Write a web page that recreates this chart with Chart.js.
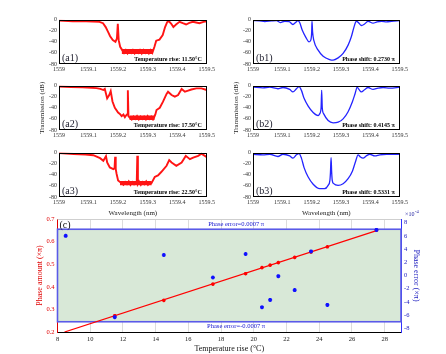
<!DOCTYPE html>
<html>
<head>
<meta charset="utf-8">
<script src="https://cdn.jsdelivr.net/npm/chart.js@4.4.1/dist/chart.umd.min.js"></script>
<style>
  html, body { margin: 0; padding: 0; background: #fff; }
  #fig { position: relative; width: 446px; height: 354px; overflow: hidden; }
  #fig canvas { position: absolute; }
</style>
</head>
<body>
<div id="fig">
  <canvas id="a1" width="179" height="62" style="left:38px;top:14px"></canvas>
  <canvas id="a2" width="179" height="62" style="left:38px;top:80px"></canvas>
  <canvas id="a3" width="179" height="70" style="left:38px;top:147px"></canvas>
  <canvas id="b1" width="178" height="62" style="left:232px;top:14px"></canvas>
  <canvas id="b2" width="178" height="62" style="left:232px;top:80px"></canvas>
  <canvas id="b3" width="178" height="70" style="left:232px;top:147px"></canvas>
  <canvas id="c" width="386" height="146" style="left:35px;top:208px"></canvas>
</div>
<script>
/* spectra panels: wavelength (nm) / transmission (dB) */
var WL_TICK_VALUES = [1559, 1559.1, 1559.2, 1559.3, 1559.4, 1559.5];
var WL_TICK_LABELS = ['1559', '1559.1', '1559.2', '1559.3', '1559.4', '1559.5'];
var DB_TICK_VALUES = [0, -20, -40, -60, -80];

var a1Wl = [1559.000, 1559.047, 1559.092, 1559.137, 1559.149, 1559.158, 1559.166, 1559.173, 1559.182, 1559.191, 1559.196, 1559.199, 1559.202, 1559.207, 1559.214,
  1559.220, 1559.226, 1559.232, 1559.238, 1559.244, 1559.250, 1559.256, 1559.262, 1559.268, 1559.274, 1559.280, 1559.286, 1559.292, 1559.298, 1559.304, 1559.310, 1559.316,
  1559.323, 1559.329, 1559.340, 1559.351, 1559.359, 1559.366, 1559.372, 1559.380, 1559.387, 1559.396, 1559.408, 1559.419, 1559.430, 1559.441, 1559.453, 1559.464, 1559.475, 1559.489, 1559.500];
var a1Db = [-1.8, -3, -3, -4, -6.5, -13.5, -22, -30, -37, -40, -34, -7.6, -37, -49, -55,
  -60, -55, -61, -56, -60, -55, -61, -56, -60, -55, -61, -55, -60, -56, -61, -55, -60,
  -49, -38, -36, -28, -13.5, -4.7, -3, -7.6, -13.5, -8.8, -4, -6.5, -8.8, -5.9, -4, -5.3, -6.5, -4, -3];
// noise band on the flat stop-band floor
var a1BandWl = [1559.212, 1559.318];
var a1BandHi = [-53, -53];
var a1BandLo = [-62, -62];

var a2Wl = [1559.000, 1559.040, 1559.080, 1559.127, 1559.140, 1559.150, 1559.155, 1559.163, 1559.170, 1559.175, 1559.181, 1559.189, 1559.200, 1559.206, 1559.212, 1559.218, 1559.223, 1559.228, 1559.231, 1559.233, 1559.235, 1559.240,
  1559.246, 1559.252, 1559.258, 1559.264, 1559.270, 1559.276, 1559.282, 1559.288, 1559.294, 1559.300, 1559.306, 1559.312, 1559.318, 1559.322,
  1559.326, 1559.330, 1559.341, 1559.352, 1559.364, 1559.369, 1559.381, 1559.392, 1559.403, 1559.415, 1559.426, 1559.437, 1559.448, 1559.465, 1559.482, 1559.500];
var a2Db = [-1.7, -2.5, -3, -4.6, -6, -8, -6, -23, -17, -10, -28.6, -40, -48.6, -51, -55, -52, -57, -53, -51.5, -8.6, -55, -58,
  -61, -56, -60, -55, -61, -56, -60, -56, -61, -55, -60, -56, -61, -57,
  -52, -44, -40, -29, -15, -11, -17, -20, -17, -6, -11, -9, -7, -5, -5, -8];
var a2BandWl = [1559.238, 1559.324];
var a2BandHi = [-54, -54];
var a2BandLo = [-62, -62];

var a3Wl = [1559.000, 1559.050, 1559.090, 1559.116, 1559.139, 1559.150, 1559.159, 1559.163, 1559.172, 1559.184, 1559.188, 1559.190, 1559.192, 1559.195, 1559.200, 1559.212,
  1559.218, 1559.224, 1559.230, 1559.236, 1559.242, 1559.248, 1559.254, 1559.259, 1559.263, 1559.265, 1559.267, 1559.271, 1559.277, 1559.283, 1559.289, 1559.295, 1559.301, 1559.307, 1559.313,
  1559.324, 1559.335, 1559.346, 1559.364, 1559.373, 1559.381, 1559.397, 1559.415, 1559.429, 1559.443, 1559.454, 1559.471, 1559.482, 1559.499];
var a3Db = [-1, -2.5, -3.5, -4.7, -10, -14.8, -6.5, -17.8, -26.7, -29.6, -28, -7.7, -30, -38.5, -50.3, -55,
  -58, -53, -57, -52, -58, -53, -57, -54, -56, -5.9, -56, -52, -58, -53, -57, -52, -58, -54, -55,
  -44, -41, -35, -23.7, -13.6, -17.8, -23.7, -17.8, -5.9, -11.8, -8.9, -5.9, -1.8, -7.7];
var a3BandWl = [1559.206, 1559.314];
var a3BandHi = [-51, -51];
var a3BandLo = [-59, -59];

var b1Wl = [1559.000, 1559.023, 1559.040, 1559.063, 1559.080, 1559.093, 1559.108, 1559.123, 1559.136, 1559.145, 1559.153, 1559.159, 1559.168, 1559.180, 1559.191, 1559.197, 1559.200, 1559.201, 1559.203, 1559.207,
  1559.222, 1559.239, 1559.261, 1559.273, 1559.290, 1559.307, 1559.324, 1559.335, 1559.344, 1559.352, 1559.358, 1559.369, 1559.381, 1559.392, 1559.409, 1559.423, 1559.438, 1559.455, 1559.472, 1559.500];
var b1Db = [-1.8, -2.4, -3.5, -2.4, -1.8, -5.3, -3, -3.5, -8.8, -5.3, -1.8, -5.3, -19.4, -32, -40, -37, -22, -3, -22, -37,
  -55, -66, -72, -73, -69, -61, -46, -31, -13.5, -3, -4.7, -10.6, -7.6, -3, -6.5, -4, -3, -4, -3, -1.8];

var b2Wl = [1559.000, 1559.034, 1559.057, 1559.085, 1559.102, 1559.125, 1559.136, 1559.148, 1559.157, 1559.165, 1559.174, 1559.188, 1559.205, 1559.222, 1559.227, 1559.232, 1559.234, 1559.236,
  1559.241, 1559.256, 1559.273, 1559.290, 1559.307, 1559.324, 1559.339, 1559.348, 1559.355, 1559.361, 1559.369, 1559.381, 1559.392, 1559.409, 1559.426, 1559.443, 1559.466, 1559.500];
var b2Db = [-2.9, -4, -2.9, -5.7, -3.4, -6.9, -11.4, -5.7, -1.7, -8.6, -23, -37, -48.6, -54, -51, -40, -8.6, -40,
  -51, -63, -67, -66, -60, -47, -28.6, -14.3, -2.9, -6.9, -11.4, -6.9, -3.4, -6.9, -4.6, -3.4, -4.6, -2.9];

var b3Wl = [1559.000, 1559.034, 1559.057, 1559.085, 1559.102, 1559.125, 1559.136, 1559.148, 1559.157, 1559.165, 1559.174, 1559.188, 1559.205, 1559.227, 1559.244, 1559.256, 1559.262, 1559.264,
  1559.266, 1559.268, 1559.270, 1559.275, 1559.290, 1559.307, 1559.324, 1559.339, 1559.350, 1559.358, 1559.366, 1559.375, 1559.386, 1559.398, 1559.415, 1559.432, 1559.455, 1559.500];
var b3Db = [-3, -4, -3, -7, -3, -6, -10, -4, -1.8, -10, -27, -44, -57, -65, -65, -59, -50, -35,
  -9, -35, -50, -56, -59, -56, -47, -33, -15, -4, -8, -10, -6, -3, -6, -4, -3, -3];

/* panel (c): phase vs temperature */
var TEMP_TICKS = [8, 10, 12, 14, 16, 18, 20, 22, 24, 26, 28];
var AMOUNT_TICKS = [0.2, 0.3, 0.4, 0.5, 0.6, 0.7];
var ERROR_TICKS = [-8, -6, -4, -2, 0, 2, 4, 6, 8];
var tempRise = [11.5, 14.5, 17.5, 19.5, 20.5, 21, 21.5, 22.5, 23.5, 24.5, 27.5];
var phaseAmount = [0.272, 0.340, 0.412, 0.458, 0.485, 0.496, 0.507, 0.530, 0.554, 0.577, 0.651];
var errorTemp = [8.5, 11.5, 14.5, 17.5, 19.5, 20.5, 21, 21.5, 22.5, 23.5, 24.5, 27.5];
var phaseError = [6.0, -6.3, 3.1, -0.3, 3.25, -4.8, -3.7, -0.1, -2.2, 3.65, -4.45, 6.9];
var fitTemp = [8.43, 27.6];
var fitPhase = [0.2, 0.651];
var errorBounds = [7, -7];

var SERIF = "'Liberation Serif', 'DejaVu Serif', serif";
Chart.defaults.font.family = SERIF;
Chart.defaults.animation = false;
Chart.defaults.devicePixelRatio = 1;

function pairs(xs, ys) {
  return xs.map(function(x, i) { return { x: x, y: ys[i] }; });
}

function fixedTicks(values) {
  return function(scale) {
    scale.ticks = values.map(function(v) { return { value: v }; });
  };
}

var panelText = {
  id: 'panelText',
  afterDatasetsDraw: function(chart, args, opts) {
    var a = chart.chartArea, ctx = chart.ctx;
    ctx.save();
    ctx.strokeStyle = '#000';
    ctx.lineWidth = 1;
    ctx.strokeRect(Math.round(a.left) + 0.5, Math.round(a.top) + 0.5,
      Math.round(a.right - a.left) - 1, Math.round(a.bottom - a.top) - 1);
    ctx.fillStyle = '#1a1a2a';
    ctx.font = '10px ' + SERIF;
    ctx.textAlign = 'left';
    ctx.textBaseline = 'alphabetic';
    ctx.fillText(opts.tag, a.left + 3, a.bottom - 3);
    ctx.fillStyle = '#000';
    ctx.font = 'bold 6px ' + SERIF;
    ctx.textAlign = 'right';
    ctx.fillText(opts.note, a.right - 5, a.bottom - 3);
    ctx.restore();
  }
};

function makePanel(id, trace, band, color, smooth, tag, note, yTitle, xTitle) {
  var datasets = [{
    data: pairs(trace[0], trace[1]),
    showLine: true,
    borderColor: color,
    borderWidth: smooth ? 1.3 : 1.9,
    pointRadius: 0,
    tension: smooth ? 0.4 : 0,
    cubicInterpolationMode: smooth ? 'monotone' : 'default'
  }];
  if (band) {
    datasets.push({
      data: pairs(band[0], band[1]), showLine: true, borderWidth: 0, pointRadius: 0,
      backgroundColor: color, fill: '+1'
    }, {
      data: pairs(band[0], band[2]), showLine: true, borderWidth: 0, pointRadius: 0
    });
  }
  new Chart(document.getElementById(id), {
    type: 'scatter',
    data: { datasets: datasets },
    options: {
      responsive: false,
      layout: { padding: { top: 5, right: 10, left: 0, bottom: 0 } },
      plugins: {
        legend: { display: false },
        tooltip: { enabled: false },
        panelText: { tag: tag, note: note }
      },
      scales: {
        x: {
          type: 'linear', min: 1559, max: 1559.5,
          afterBuildTicks: fixedTicks(WL_TICK_VALUES),
          afterFit: function(s) { s.height = xTitle ? 20 : 12; },
          grid: { display: false, drawTicks: false },
          border: { display: false },
          ticks: {
            padding: 2, color: '#333', font: { size: 6 }, maxRotation: 0,
            callback: function(v, i) { return WL_TICK_LABELS[i]; }
          },
          title: { display: !!xTitle, text: 'Wavelength (nm)', color: '#222', font: { size: 7 }, padding: 0 }
        },
        y: {
          min: -80, max: 0,
          afterBuildTicks: fixedTicks(DB_TICK_VALUES),
          afterFit: function(s) { s.width = 21; },
          grid: { display: false, drawTicks: false },
          border: { display: false },
          ticks: { padding: 2, color: '#333', font: { size: 6 } },
          title: { display: !!yTitle, text: 'Transmission (dB)', color: '#222', font: { size: 7 }, padding: 0 }
        }
      }
    },
    plugins: [panelText]
  });
}

var RED = '#ff1414', BLUE = '#2424ff';
makePanel('a1', [a1Wl, a1Db], [a1BandWl, a1BandHi, a1BandLo], RED, false, '(a1)', 'Temperature rise: 11.50\u00B0C', false, false);
makePanel('a2', [a2Wl, a2Db], [a2BandWl, a2BandHi, a2BandLo], RED, false, '(a2)', 'Temperature rise: 17.50\u00B0C', true, false);
makePanel('a3', [a3Wl, a3Db], [a3BandWl, a3BandHi, a3BandLo], RED, false, '(a3)', 'Temperature rise: 22.50\u00B0C', false, true);
makePanel('b1', [b1Wl, b1Db], null, BLUE, true, '(b1)', 'Phase shift: 0.2730 \u03C0', false, false);
makePanel('b2', [b2Wl, b2Db], null, BLUE, true, '(b2)', 'Phase shift: 0.4145 \u03C0', true, false);
makePanel('b3', [b3Wl, b3Db], null, BLUE, true, '(b3)', 'Phase shift: 0.5331 \u03C0', false, true);

var errorBand = {
  id: 'errorBand',
  beforeDatasetsDraw: function(chart) {
    var a = chart.chartArea, ctx = chart.ctx, y1 = chart.scales.y1;
    var top = y1.getPixelForValue(errorBounds[0]);
    var bot = y1.getPixelForValue(errorBounds[1]);
    var w = a.right - a.left;
    ctx.save();
    ctx.strokeStyle = '#cfcfcf';
    ctx.lineWidth = 1;
    ctx.beginPath();
    ctx.moveTo(a.left, Math.round(a.top) + 0.5);
    ctx.lineTo(a.right, Math.round(a.top) + 0.5);
    ctx.stroke();
    ctx.fillStyle = '#d8e8d7';
    ctx.fillRect(a.left, top, w, bot - top);
    ctx.strokeStyle = '#5a5ae8';
    ctx.lineWidth = 1.6;
    ctx.strokeRect(a.left, top, w, bot - top);
    ctx.fillStyle = '#1515d0';
    ctx.font = '6.5px ' + SERIF;
    ctx.textAlign = 'center';
    ctx.textBaseline = 'middle';
    var cx = a.left + w * 0.52;
    ctx.fillText('Phase error=0.0007 \u03C0', cx, top - 5);
    ctx.fillText('Phase error=-0.0007 \u03C0', cx, bot + 5);
    ctx.restore();
  },
  afterDraw: function(chart) {
    var a = chart.chartArea, ctx = chart.ctx;
    ctx.save();
    ctx.fillStyle = '#111';
    ctx.font = '10px ' + SERIF;
    ctx.textAlign = 'left';
    ctx.textBaseline = 'alphabetic';
    ctx.fillText('(c)', a.left + 2, a.top + 9);
    ctx.fillStyle = '#2020a0';
    ctx.font = '6px ' + SERIF;
    ctx.fillText('\u00D710', a.right + 4, a.top - 3);
    ctx.font = '4.5px ' + SERIF;
    ctx.fillText('-4', a.right + 14, a.top - 6);
    ctx.restore();
  }
};

new Chart(document.getElementById('c'), {
  type: 'scatter',
  data: {
    datasets: [
      {
        label: 'Phase error',
        yAxisID: 'y1',
        data: pairs(errorTemp, phaseError),
        pointStyle: 'star',
        radius: 2,
        borderColor: '#1010ff',
        backgroundColor: '#1010ff',
        borderWidth: 1.2
      },
      {
        label: 'Phase amount',
        yAxisID: 'y',
        data: pairs(tempRise, phaseAmount),
        pointStyle: 'star',
        radius: 1.8,
        borderColor: '#ff0000',
        backgroundColor: '#ff0000',
        borderWidth: 1.1
      },
      {
        label: 'Fit',
        yAxisID: 'y',
        data: pairs(fitTemp, fitPhase),
        showLine: true,
        pointRadius: 0,
        borderColor: '#ff0000',
        borderWidth: 1.2
      }
    ]
  },
  options: {
    responsive: false,
    layout: { padding: { top: 11, right: 0, left: 0, bottom: 0 } },
    plugins: { legend: { display: false }, tooltip: { enabled: false } },
    scales: {
      x: {
        type: 'linear', min: 8, max: 29,
        afterBuildTicks: fixedTicks(TEMP_TICKS),
        afterFit: function(s) { s.height = 22; },
        grid: { color: '#dcdcdc', drawTicks: false },
        border: { color: '#000' },
        ticks: { padding: 3, color: '#222', font: { size: 6.5 }, maxRotation: 0 },
        title: { display: true, text: 'Temperature rise (\u00B0C)', color: '#111', font: { size: 8 }, padding: 0 }
      },
      y: {
        position: 'left', min: 0.2, max: 0.7,
        afterBuildTicks: fixedTicks(AMOUNT_TICKS),
        afterFit: function(s) { s.width = 22.5; },
        grid: { display: false, drawTicks: false },
        border: { color: '#e00000' },
        ticks: { padding: 3, color: '#e00000', font: { size: 6.5 }, callback: function(v) { return v.toFixed(1); } },
        title: { display: true, text: 'Phase amount (\u00D7\u03C0)', color: '#e00000', font: { size: 8 }, padding: 0 }
      },
      y1: {
        position: 'right', min: -8.55, max: 8.55,
        afterBuildTicks: fixedTicks(ERROR_TICKS),
        afterFit: function(s) { s.width = 20; },
        grid: { display: false, drawTicks: false },
        border: { color: '#3030ff' },
        ticks: { padding: 3, color: '#2020c0', font: { size: 6.5 } },
        title: { display: true, text: 'Phase error (\u00D7\u03C0)', color: '#2020c0', font: { size: 8 }, padding: 0 }
      }
    }
  },
  plugins: [errorBand]
});
</script>
</body>
</html>
